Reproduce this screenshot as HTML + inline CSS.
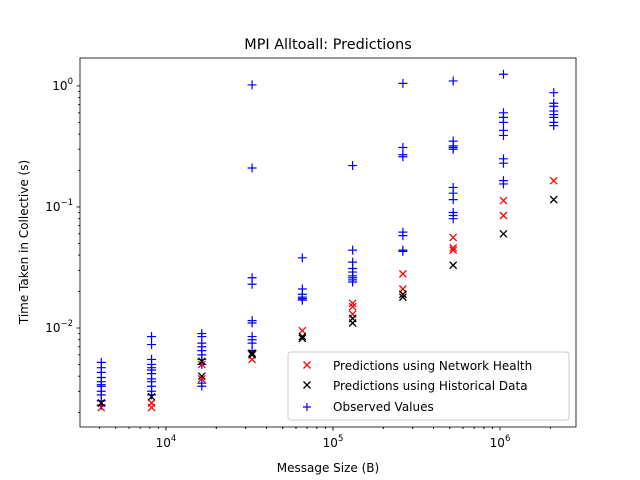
<!DOCTYPE html>
<html><head><meta charset="utf-8"><style>body{margin:0;background:#fff}svg{display:block}text{font-family:"DejaVu Sans","Liberation Sans",sans-serif;fill:#000}</style></head>
<body>
<svg id="chart" width="640" height="480" xmlns="http://www.w3.org/2000/svg">
<rect width="640" height="480" fill="#fff"/>
<g id="marks"></g>
<rect x="80" y="58" width="496" height="369" fill="none" stroke="#000" stroke-width="0.8"/>
<g id="axes"></g>
<text x="328" y="49" text-anchor="middle" font-size="14.4">MPI Alltoall: Predictions</text>
<text x="328" y="472" text-anchor="middle" font-size="12">Message Size (B)</text>
<text transform="translate(28,242) rotate(-90)" text-anchor="middle" font-size="12">Time Taken in Collective (s)</text>
<g>
<rect x="288" y="352" width="281" height="68" rx="3" fill="#fff" fill-opacity="0.8" stroke="#ccc"/>
<g><path d="M303.5 361.5l7 7M310.5 361.5l-7 7" stroke="red" stroke-width="1.3"/><text x="333" y="370" font-size="12">Predictions using Network Health</text></g>
<g><path d="M303.5 381.5l7 7M310.5 381.5l-7 7" stroke="#000" stroke-width="1.3"/><text x="333" y="390" font-size="12">Predictions using Historical Data</text></g>
<g><path d="M303 407h8M307 403v8" stroke="blue" stroke-width="1.2"/><text x="333" y="411" font-size="12">Observed Values</text></g>
</g>
</svg>
<script>
const sizes=[4096,8192,16384,32768,65536,131072,262144,524288,1048576,2097152];
const observed=[
[0.0052,0.0047,0.0043,0.0039,0.0036,0.0034,0.0033,0.003,0.0028,0.0025,0.0023],
[0.0085,0.0073,0.0055,0.005,0.0047,0.0045,0.0042,0.0038,0.0036,0.0033,0.003,0.0028],
[0.009,0.0085,0.0075,0.007,0.0065,0.006,0.0055,0.005,0.0035,0.0033],
[1.02,0.21,0.026,0.023,0.0115,0.011,0.0085,0.008,0.0075,0.0065],
[0.038,0.021,0.019,0.018,0.0175,0.017],
[0.22,0.044,0.035,0.031,0.029,0.027,0.026,0.025,0.024],
[1.05,0.31,0.27,0.26,0.062,0.058,0.044,0.043],
[1.1,0.35,0.32,0.31,0.3,0.145,0.13,0.115,0.09,0.085,0.08],
[1.25,0.6,0.55,0.5,0.43,0.39,0.25,0.23,0.165,0.155],
[0.88,0.72,0.68,0.62,0.58,0.55,0.5,0.47]];
const networkHealth=[[0.0022,0.0024],[0.0022,0.0024],[0.005,0.0038],[0.0055,0.006],[0.0095],[0.016,0.015,0.013,0.012],[0.028,0.021],[0.056,0.046,0.044],[0.113,0.085],[0.165]];
const historical=[[0.0024],[0.0027],[0.0053,0.004],[0.0062,0.006],[0.0085,0.0082],[0.012,0.011],[0.019,0.018],[0.033],[0.06],[0.115]];
const xTicks=[4,5,6], yTicks=[-2,-1,0];
const X0=80,X1=576,Y0=58,Y1=427,xmin=3.485,xmax=6.455,ymin=-2.818,ymax=0.231;
const sx=v=>X0+(Math.log10(v)-xmin)/(xmax-xmin)*(X1-X0);
const sy=v=>Y1-(Math.log10(v)-ymin)/(ymax-ymin)*(Y1-Y0);
const NS='http://www.w3.org/2000/svg';
const marks=document.getElementById('marks'),axes=document.getElementById('axes');
function mk(tag,attrs,parent){const e=document.createElementNS(NS,tag);for(const k in attrs)e.setAttribute(k,attrs[k]);parent.appendChild(e);return e;}
function cross(x,y,c,name){const p=mk('path',{d:`M${x-3.5} ${y-3.5}l7 7M${x+3.5} ${y-3.5}l-7 7`,stroke:c,'stroke-width':1.3,fill:'none'},marks);

}
sizes.forEach((s,i)=>{const x=sx(s);
observed[i].forEach(v=>{const y=sy(v);const p=mk('path',{d:`M${x-4.5} ${y}h9M${x} ${y-4.5}v9`,stroke:'blue','stroke-width':1.2,fill:'none'},marks);

});
networkHealth[i].forEach(v=>cross(x,sy(v),'red','network-health-point'));
historical[i].forEach(v=>cross(x,sy(v),'#000','historical-point'));});
xTicks.forEach(e=>{for(let m=1;m<10;m++){const v=m*Math.pow(10,e-1);const lv=Math.log10(v);if(lv<xmin||lv>xmax)continue;const x=sx(v);mk('line',{x1:x,x2:x,y1:Y1,y2:Y1+(m==1?3.5:2),stroke:'#000','stroke-width':0.8},axes);}
for(let m=1;m<10;m++){const v=m*Math.pow(10,e);const lv=Math.log10(v);if(lv<xmin||lv>xmax)continue;const x=sx(v);mk('line',{x1:x,x2:x,y1:Y1,y2:Y1+(m==1?3.5:2),stroke:'#000','stroke-width':0.8},axes);}
const t=mk('text',{x:sx(Math.pow(10,e)),y:Y1+20,'text-anchor':'middle','font-size':12},axes);


t.innerHTML='10<tspan dy="-6" font-size="8.5">'+e+'</tspan>';});
for(let e=-3;e<=0;e++)for(let m=1;m<10;m++){const v=m*Math.pow(10,e);const lv=Math.log10(v);if(lv<ymin||lv>ymax)continue;const y=sy(v);mk('line',{x1:X0-(m==1?3.5:2),x2:X0,y1:y,y2:y,stroke:'#000','stroke-width':0.8},axes);}
yTicks.forEach(e=>{const t=mk('text',{x:X0-7,y:sy(Math.pow(10,e))+4,'text-anchor':'end','font-size':12},axes);


t.innerHTML='10<tspan dy="-6" font-size="8.5">'+(e<0?'−'+(-e):e)+'</tspan>';});
</script>
</body></html>
